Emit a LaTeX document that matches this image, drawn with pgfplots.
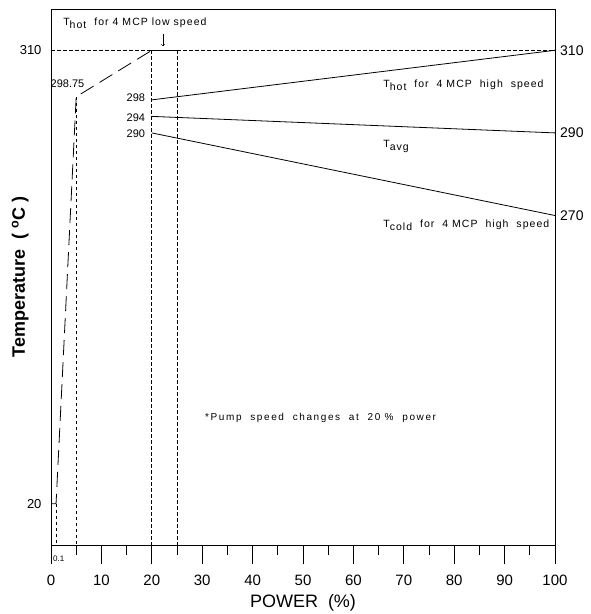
\documentclass[border=0pt]{standalone}
\usepackage{fontspec}
\setmainfont{Liberation Sans}
\newfontfamily\widefont[LetterSpace=10]{Liberation Sans}
\newfontfamily\widerfont[LetterSpace=16]{Liberation Sans}
\usepackage{pgfplots}
\pgfplotsset{compat=1.18}
\newcommand{\fs}[1]{\fontsize{#1}{#1}\selectfont}
\begin{document}
\begin{tikzpicture}
\begin{axis}[
  name=ax,
  scale only axis, width=504pt, height=536pt,
  xmin=0, xmax=100, ymin=-20, ymax=320,
  y coord trafo/.code={\pgfmathparse{(#1<260)?(200.2+(#1-20)*0.24917):(#1)}},
  clip=false,
  axis line style={line width=0.9pt},
  xtick={0,10,...,100},
  minor xtick={5,15,...,95},
  xtick pos=bottom,
  tick align=outside,
  major tick length=19pt,
  minor tick length=10pt,
  every tick/.style={black, line width=0.8pt},
  ytick={20,310},
  yticklabels={20,310},
  ytick pos=left,
  every y tick/.style={draw=none},
  every major y tick/.style={draw=none},
  /pgf/number format/assume math mode=true,
  x tick label style={font=\fs{15}, yshift=-7pt},
  y tick label style={font=\fs{13}, xshift=13pt},
  xlabel={POWER\ \ (\%)},
  xlabel style={font=\fs{18}, at={(axis description cs:0.5,-0.1175)}, anchor=base},
  ylabel={Temperature\ \ ( \textsuperscript{o}C )},
  ylabel style={font=\bfseries\fs{18}, at={(axis description cs:-0.052,0.5)}, anchor=base},
]
% dotted reference lines
\addplot[black, line width=0.7pt, dash pattern=on 3.5pt off 2.5pt] coordinates {(0,310) (100,310)};
\addplot[black, line width=0.7pt, dash pattern=on 3.5pt off 2.5pt] coordinates {(1,20) (1,-20)};
\addplot[black, line width=0.7pt, dash pattern=on 3.5pt off 2.5pt] coordinates {(5,298.75) (5,-20)};
\addplot[black, line width=0.7pt, dash pattern=on 3.5pt off 2.5pt] coordinates {(20,310) (20,-20)};
\addplot[black, line width=0.7pt, dash pattern=on 3.5pt off 2.5pt] coordinates {(25,310) (25,-20)};
% low speed T_hot (dashed start-up curve)
\addplot[black, line width=0.8pt, dash pattern=on 15pt off 7pt] coordinates {(0,20) (1,20) (5,298.75) (20,310)};
\addplot[black, line width=0.8pt] coordinates {(20,310) (25,310)};
% high speed
\addplot[black, line width=0.8pt] coordinates {(20,298) (100,310)};
\addplot[black, line width=0.8pt] coordinates {(20,294) (100,290)};
\addplot[black, line width=0.8pt] coordinates {(20,290) (100,270)};
% annotations
\node[anchor=base west, inner sep=0, font=\widefont\fs{10.5}] at (axis cs:2.4,316) {T\raisebox{-3pt}{hot}\ \ for 4 MCP low speed};
\draw[black, line width=0.6pt, ->] (axis cs:22.2,314) -- (axis cs:22.2,311);
\node[anchor=base west, inner sep=0, font=\fs{11}] at (axis cs:-0.1,301) {298.75};
\node[anchor=base east, inner sep=0, font=\fs{11}] at (axis cs:18.7,297.6) {298};
\node[anchor=base east, inner sep=0, font=\fs{11}] at (axis cs:18.7,292.8) {294};
\node[anchor=base east, inner sep=0, font=\fs{11}] at (axis cs:18.7,288.9) {290};
\node[anchor=west, inner sep=0, xshift=5pt, font=\fs{14}] at (axis cs:100,310) {310};
\node[anchor=west, inner sep=0, xshift=5pt, font=\fs{14}] at (axis cs:100,290) {290};
\node[anchor=west, inner sep=0, xshift=5pt, font=\fs{14}] at (axis cs:100,270) {270};
\node[anchor=base west, inner sep=0, font=\widefont\fs{10.5}] at (axis cs:65.9,301) {T\raisebox{-3pt}{hot}\ \ for\ \ 4 MCP\ \ high\ \ speed};
\node[anchor=base west, inner sep=0, font=\widefont\fs{10.5}] at (axis cs:65.9,286.5) {T\raisebox{-3pt}{avg}};
\node[anchor=base west, inner sep=0, font=\widefont\fs{10.5}] at (axis cs:65.9,267.1) {T\raisebox{-3pt}{cold}\ \ for\ \ 4 MCP\ \ high\ \ speed};
\node[anchor=base west, inner sep=0, font=\widerfont\fs{10}] at (rel axis cs:0.3056,0.233) {*Pump\ \ speed\ \ changes\ \ at\ \ 20 \%\ \ power};
\node[anchor=base west, inner sep=0, font=\fs{8}] at (rel axis cs:0.004,-0.03) {0.1};
\end{axis}
\pgfresetboundingbox
\path[use as bounding box] ([shift={(-51pt,-69pt)}]ax.south west) rectangle ([shift={(35pt,9pt)}]ax.north east);
\end{tikzpicture}
\end{document}
